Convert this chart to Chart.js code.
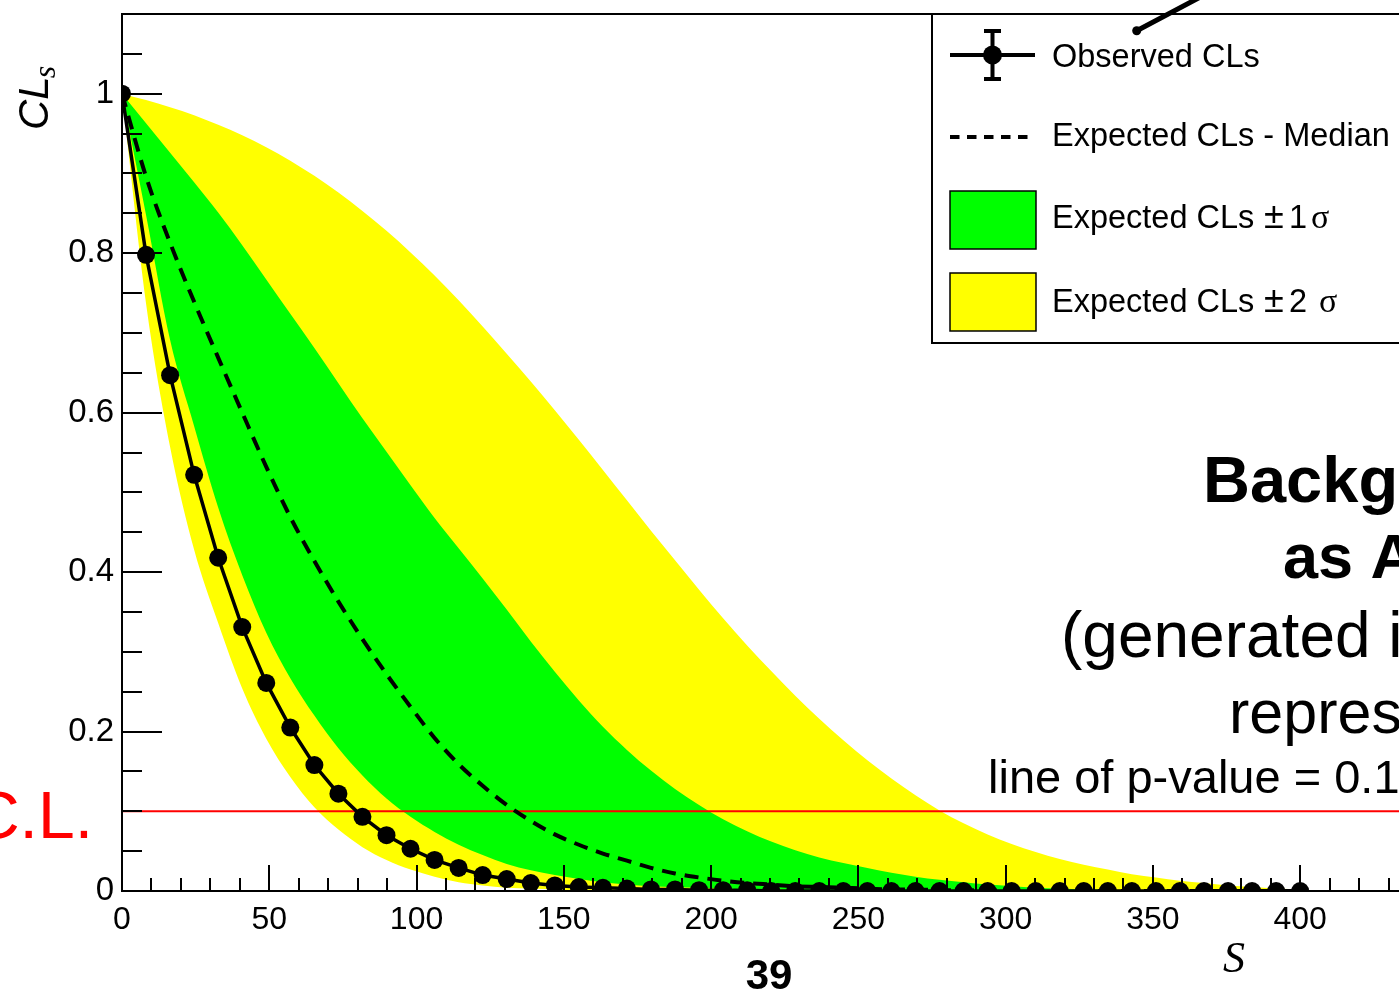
<!DOCTYPE html>
<html>
<head>
<meta charset="utf-8">
<script src="https://cdn.jsdelivr.net/npm/chart.js@4.4.1/dist/chart.umd.min.js"></script>
<style>
  html, body { margin: 0; padding: 0; background: #fff; overflow: hidden; }
  #wrap { position: relative; width: 1440px; height: 991px; }
</style>
</head>
<body>
<div id="wrap"><canvas id="cls" width="1440" height="991"></canvas></div>
<script>
// Signal hypotheses scanned (S)
const signal = [0, 8.16, 16.33, 24.49, 32.65, 40.82, 48.98, 57.14, 65.31, 73.47,
  81.63, 89.8, 97.96, 106.12, 114.29, 122.45, 130.61, 138.78, 146.94, 155.1,
  163.27, 171.43, 179.59, 187.76, 195.92, 204.08, 212.24, 220.41, 228.57, 236.73,
  244.9, 253.06, 261.22, 269.39, 277.55, 285.71, 293.88, 302.04, 310.2, 318.37,
  326.53, 334.69, 342.86, 351.02, 359.18, 367.35, 375.51, 383.67, 391.84, 400];

// Observed CLs
const observed = [1.000, 0.798, 0.647, 0.522, 0.418, 0.331, 0.261, 0.205, 0.158, 0.122,
  0.093, 0.070, 0.053, 0.039, 0.029, 0.020, 0.015, 0.010, 0.007, 0.005,
  0.004, 0.003, 0.002, 0.002, 0.001, 0.001, 0.001, 0, 0, 0,
  0, 0, 0, 0, 0, 0, 0, 0, 0, 0,
  0, 0, 0, 0, 0, 0, 0, 0, 0, 0];

// Expected CLs, median
const expMedian = [1.000, 0.896, 0.813, 0.739, 0.669, 0.600, 0.532, 0.469, 0.414, 0.363,
  0.316, 0.272, 0.231, 0.192, 0.159, 0.132, 0.108, 0.088, 0.071, 0.058,
  0.047, 0.038, 0.029, 0.022, 0.017, 0.013, 0.010, 0.008, 0.006, 0.005,
  0.004, 0.003, 0.002, 0.002, 0.001, 0.001, 0.001, 0, 0, 0,
  0, 0, 0, 0, 0, 0, 0, 0, 0, 0];

// Expected CLs, +1 sigma / -1 sigma edges
const expUp1 = [1.000, 0.963, 0.926, 0.889, 0.851, 0.810, 0.767, 0.724, 0.681, 0.637,
  0.593, 0.551, 0.509, 0.468, 0.430, 0.392, 0.353, 0.313, 0.275, 0.239,
  0.206, 0.177, 0.151, 0.128, 0.108, 0.090, 0.075, 0.062, 0.051, 0.042,
  0.035, 0.029, 0.023, 0.018, 0.014, 0.011, 0.008, 0.006, 0.004, 0.003,
  0.002, 0.002, 0.001, 0.001, 0.001, 0, 0, 0, 0, 0];
const expDn1 = [1.000, 0.848, 0.691, 0.583, 0.481, 0.396, 0.324, 0.267, 0.220, 0.179,
  0.145, 0.116, 0.093, 0.074, 0.058, 0.045, 0.034, 0.026, 0.020, 0.015,
  0.011, 0.008, 0.006, 0.005, 0.004, 0.003, 0.002, 0.002, 0.001, 0,
  0, 0, 0, 0, 0, 0, 0, 0, 0, 0,
  0, 0, 0, 0, 0, 0, 0, 0, 0, 0];

// Expected CLs, +2 sigma / -2 sigma edges
const expUp2 = [1.000, 0.992, 0.983, 0.973, 0.961, 0.948, 0.933, 0.916, 0.897, 0.876,
  0.853, 0.828, 0.801, 0.772, 0.741, 0.708, 0.674, 0.639, 0.603, 0.566,
  0.528, 0.490, 0.452, 0.415, 0.378, 0.342, 0.308, 0.276, 0.245, 0.216,
  0.189, 0.164, 0.141, 0.120, 0.101, 0.085, 0.071, 0.059, 0.049, 0.040,
  0.033, 0.027, 0.021, 0.017, 0.013, 0.010, 0.007, 0.005, 0.003, 0.002];
const expDn2 = [1.000, 0.737, 0.557, 0.428, 0.336, 0.254, 0.191, 0.143, 0.105, 0.077,
  0.055, 0.039, 0.027, 0.018, 0.011, 0.007, 0.004, 0.003, 0.002, 0.001,
  0.001, 0, 0, 0, 0, 0, 0, 0, 0, 0,
  0, 0, 0, 0, 0, 0, 0, 0, 0, 0,
  0, 0, 0, 0, 0, 0, 0, 0, 0, 0];

// p-value threshold
const pValueLine = 0.1;

// Axis ticks
const xTicks = [0, 50, 100, 150, 200, 250, 300, 350, 400];
const xTickLabels = ['0', '50', '100', '150', '200', '250', '300', '350', '400'];
const yTicks = [0, 0.2, 0.4, 0.6, 0.8, 1];
const yTickLabels = ['0', '0.2', '0.4', '0.6', '0.8', '1'];

const SANS = '"Liberation Sans", Arial, Helvetica, sans-serif';
const SERIF = '"Liberation Serif", "Times New Roman", serif';

const pts = arr => signal.map((s, i) => ({ x: s, y: arr[i] }));

function tickLines(ctx, area, xs, ys) {
  ctx.save();
  ctx.strokeStyle = '#000';
  ctx.lineWidth = 2;
  ctx.lineCap = 'butt';
  // y axis: major every 0.2, minor every 0.05 (ticks point into the frame)
  for (let k = 0; k <= 22; k++) {
    const py = Math.round(ys.getPixelForValue(k * 0.05));
    const major = k % 4 === 0;
    ctx.beginPath();
    ctx.moveTo(area.left, py);
    ctx.lineTo(area.left + (major ? 40 : 20), py);
    ctx.stroke();
  }
  // x axis: major every 50, minor every 10
  for (let k = 0; k <= 44; k++) {
    const px = Math.round(xs.getPixelForValue(k * 10));
    const major = k % 5 === 0;
    ctx.beginPath();
    ctx.moveTo(px, area.bottom);
    ctx.lineTo(px, area.bottom - (major ? 26 : 13));
    ctx.stroke();
  }
  // frame
  ctx.strokeRect(area.left, area.top, area.right - area.left, area.bottom - area.top);
  ctx.restore();
}

function drawLegend(ctx) {
  ctx.save();
  ctx.fillStyle = '#fff';
  ctx.fillRect(932, 14, 540, 329);
  ctx.strokeStyle = '#000';
  ctx.lineWidth = 2;
  ctx.strokeRect(932, 14, 540, 329);

  // observed: marker with error bar
  ctx.lineWidth = 4;
  ctx.beginPath();
  ctx.moveTo(950, 55); ctx.lineTo(1035, 55);
  ctx.moveTo(992.5, 30); ctx.lineTo(992.5, 80);
  ctx.moveTo(984, 31); ctx.lineTo(1001, 31);
  ctx.moveTo(984, 79); ctx.lineTo(1001, 79);
  ctx.stroke();
  ctx.fillStyle = '#000';
  ctx.beginPath();
  ctx.arc(992.5, 55, 9.5, 0, Math.PI * 2);
  ctx.fill();

  // median: dashed
  ctx.lineWidth = 4;
  ctx.setLineDash([9.5, 7.5]);
  ctx.beginPath();
  ctx.moveTo(950, 137); ctx.lineTo(1028, 137);
  ctx.stroke();
  ctx.setLineDash([]);

  // band swatches
  ctx.lineWidth = 1.5;
  ctx.fillStyle = '#00ff00';
  ctx.fillRect(950, 191, 86, 58);
  ctx.strokeRect(950, 191, 86, 58);
  ctx.fillStyle = '#ffff00';
  ctx.fillRect(950, 273, 86, 58);
  ctx.strokeRect(950, 273, 86, 58);

  // labels
  ctx.fillStyle = '#000';
  ctx.textBaseline = 'alphabetic';
  ctx.textAlign = 'left';
  ctx.font = '32.5px ' + SANS;
  ctx.fillText('Observed CLs', 1052, 67);
  ctx.fillText('Expected CLs - Median', 1052, 146);
  ctx.fillText('Expected CLs', 1052, 228);
  ctx.fillText('Expected CLs', 1052, 312);
  ctx.fillText('1', 1289, 228);
  ctx.fillText('2', 1289, 312);
  ctx.font = '36px ' + SANS;
  ctx.fillText('\u00b1', 1264, 228);
  ctx.fillText('\u00b1', 1264, 312);
  ctx.font = '34px ' + SERIF;
  ctx.fillText('\u03c3', 1311, 228);
  ctx.fillText('\u03c3', 1319, 312);
  ctx.restore();
}

function drawAnnotations(ctx, xs, ys) {
  ctx.save();
  ctx.fillStyle = '#000';
  ctx.textAlign = 'left';
  ctx.textBaseline = 'alphabetic';

  // y-axis title CL_s, rotated, at the top end of the axis
  ctx.save();
  ctx.translate(48, 130);
  ctx.rotate(-Math.PI / 2);
  ctx.font = 'italic 42px ' + SANS;
  ctx.fillText('CL', 0, 0);
  const wcl = ctx.measureText('CL').width;
  ctx.font = 'italic 32px ' + SERIF;
  ctx.fillText('s', wcl - 2, 7);
  ctx.restore();

  // x-axis title
  ctx.font = 'italic 44px ' + SERIF;
  ctx.textAlign = 'center';
  ctx.fillText('S', 1234, 972);

  // page number
  ctx.font = 'bold 42px ' + SANS;
  ctx.fillText('39', 769, 989);

  // red confidence-level label
  ctx.fillStyle = '#ff0000';
  ctx.font = '66px ' + SANS;
  ctx.textAlign = 'right';
  ctx.fillText('90% C.L.', 93, 838);

  // description block
  ctx.fillStyle = '#000';
  ctx.textAlign = 'left';
  ctx.font = 'bold 65px ' + SANS;
  ctx.fillText('Background-only', 1203, 502);
  ctx.font = 'bold 63px ' + SANS;
  ctx.fillText('as Asimov data', 1283, 578);
  ctx.font = '64px ' + SANS;
  ctx.fillText('(generated in the fit)', 1061, 657);
  ctx.font = '61px ' + SANS;
  ctx.fillText('represents 0 signal', 1229, 733);
  ctx.font = '47px ' + SANS;
  ctx.fillText('line of p-value = 0.1 (90% C.L.)', 988, 793);

  // pointer stroke at the top edge
  ctx.strokeStyle = '#000';
  ctx.lineWidth = 5;
  ctx.lineCap = 'round';
  const x0 = xs.getPixelForValue(344.5), y0 = ys.getPixelForValue(1.079);
  const x1 = xs.getPixelForValue(368), y1 = ys.getPixelForValue(1.125);
  ctx.beginPath();
  ctx.moveTo(x0, y0);
  ctx.lineTo(x1, y1);
  ctx.stroke();
  ctx.beginPath();
  ctx.arc(x0, y0, 4.5, 0, Math.PI * 2);
  ctx.fill();
  ctx.restore();
}

const rootStyle = {
  id: 'rootStyle',
  afterDatasetsDraw(chart) {
    tickLines(chart.ctx, chart.chartArea, chart.scales.x, chart.scales.y);
  },
  afterDraw(chart) {
    drawLegend(chart.ctx);
    drawAnnotations(chart.ctx, chart.scales.x, chart.scales.y);
  }
};

const band = (data, fill, color, order) => ({
  data: pts(data), fill, backgroundColor: color, borderColor: 'rgba(0,0,0,0)',
  borderWidth: 0, pointRadius: 0, cubicInterpolationMode: 'monotone', order
});

new Chart(document.getElementById('cls'), {
  type: 'line',
  data: {
    datasets: [
      { label: 'Expected CLs +2 sigma', ...band(expUp2, '+1', '#ffff00', 6) },
      { label: 'Expected CLs -2 sigma', ...band(expDn2, false, '#ffff00', 6) },
      { label: 'Expected CLs +1 sigma', ...band(expUp1, '+1', '#00ff00', 5) },
      { label: 'Expected CLs -1 sigma', ...band(expDn1, false, '#00ff00', 5) },
      { label: 'p-value', data: [{ x: 0, y: pValueLine }, { x: 440, y: pValueLine }], fill: false,
        borderColor: '#ff0000', borderWidth: 2, pointRadius: 0, order: 3 },
      { label: 'Expected CLs - Median', data: pts(expMedian), fill: false,
        borderColor: '#000', borderWidth: 4, borderDash: [14, 9], pointRadius: 0,
        cubicInterpolationMode: 'monotone', order: 2 },
      { label: 'Observed CLs', data: pts(observed), fill: false,
        borderColor: '#000', borderWidth: 3.5, pointRadius: 9, pointBackgroundColor: '#000',
        pointBorderWidth: 0, tension: 0, order: 1 }
    ]
  },
  options: {
    responsive: false,
    animation: false,
    devicePixelRatio: 1,
    layout: { padding: { top: 14, right: 22, left: 0, bottom: 0 } },
    plugins: { legend: { display: false }, tooltip: { enabled: false } },
    scales: {
      x: {
        type: 'linear', min: 0, max: 440,
        afterBuildTicks: s => { s.ticks = xTicks.map(v => ({ value: v })); },
        afterFit: s => { s.height = 100; s.paddingLeft = 0; s.paddingRight = 0; },
        grid: { display: false, drawTicks: false },
        border: { display: false },
        ticks: {
          autoSkip: false, maxRotation: 0, padding: 10, color: '#000',
          font: { family: SANS, size: 32 },
          callback: v => xTickLabels[xTicks.indexOf(v)]
        }
      },
      y: {
        type: 'linear', min: 0, max: 1.1,
        afterBuildTicks: s => { s.ticks = yTicks.map(v => ({ value: v })); },
        afterFit: s => { s.width = 122; s.paddingTop = 0; s.paddingBottom = 0; },
        grid: { display: false, drawTicks: false },
        border: { display: false },
        ticks: {
          padding: 8, color: '#000',
          font: { family: SANS, size: 33 },
          callback: v => yTickLabels[yTicks.indexOf(v)]
        }
      }
    }
  },
  plugins: [rootStyle]
});
</script>
</body>
</html>
